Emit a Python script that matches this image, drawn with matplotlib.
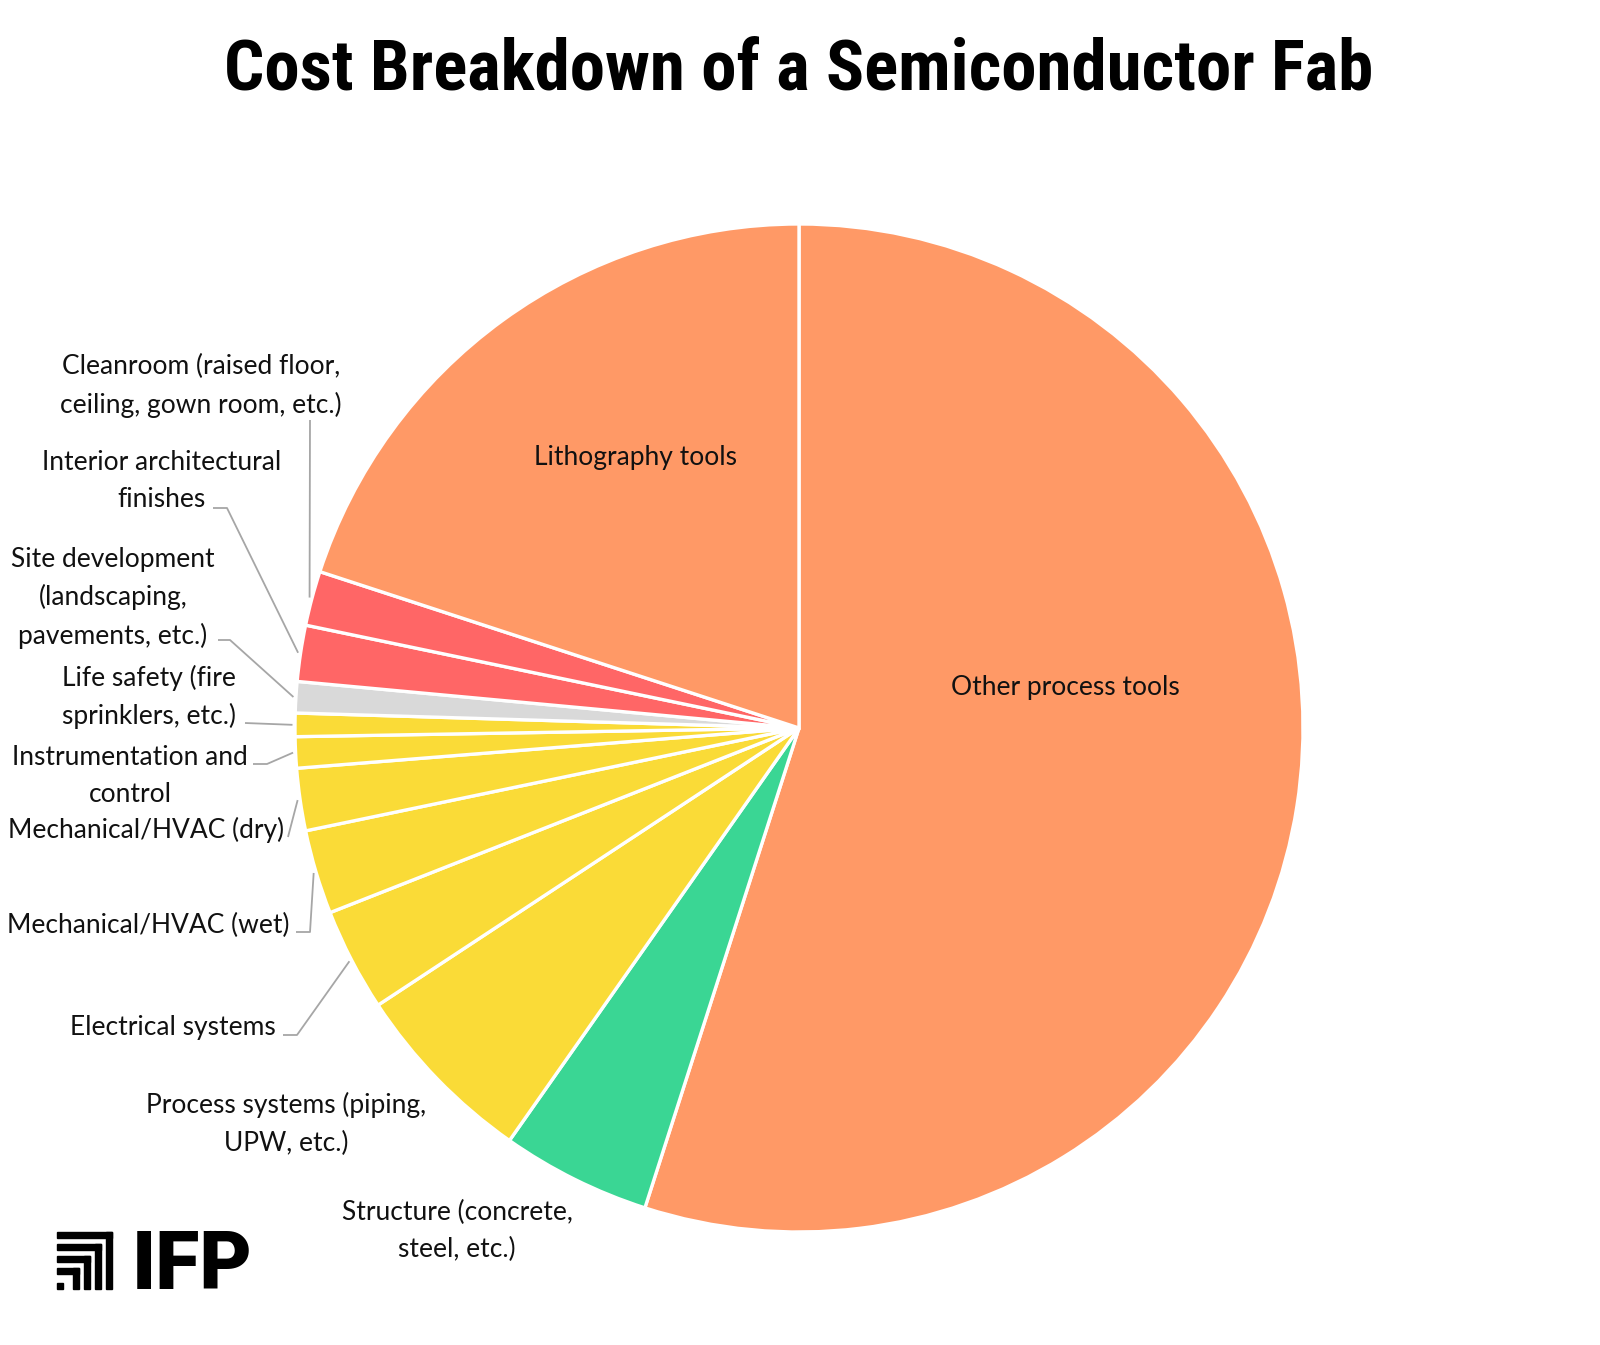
import matplotlib
matplotlib.use("Agg")
import matplotlib.pyplot as plt
from matplotlib.patches import Rectangle
import numpy as np

# slices, clockwise from 12 o'clock
categories = [
    "Other process tools",
    "Structure (concrete,\nsteel, etc.)",
    "Process systems (piping,\nUPW, etc.)",
    "Electrical systems",
    "Mechanical/HVAC (wet)",
    "Mechanical/HVAC (dry)",
    "Instrumentation and\ncontrol",
    "Life safety (fire\nsprinklers, etc.)",
    "Site development\n(landscaping,\npavements, etc.)",
    "Interior architectural\nfinishes",
    "Cleanroom (raised floor,\nceiling, gown room, etc.)",
    "Lithography tools",
]
shares = [55.0, 4.8, 6.0, 3.3, 2.7, 2.0, 1.0, 0.75, 1.0, 1.8, 1.75, 20.0]
colors = ["#FF9966", "#3AD694", "#FADB37", "#FADB37", "#FADB37", "#FADB37",
          "#FADB37", "#FADB37", "#D9D9D9", "#FF6666", "#FF6666", "#FF9966"]

W, H = 1600, 1345
font = ["Lato", "DejaVu Sans"]

# label layout in pixel coords (x, y from top): text centre, leader start, elbow
label_pos = {
    0: ((1065, 687), None, None),
    1: ((457, 1231), None, None),
    2: ((286, 1124), None, None),
    3: ((173, 1027), (283, 1035), (297, 1035)),
    4: ((148, 925), (296, 932), (310, 932)),
    5: ((146, 830), (288, 837), None),
    6: ((130, 776), (253, 764), (267, 764)),
    7: ((149, 697), (245, 723), None),
    8: ((113, 598), (218, 640), (230, 640)),
    9: ((162, 481), (213, 508), (227, 508)),
    10: ((201, 386), (310, 420), None),
    11: ((635, 457), None, None),
}


def P(x, y):
    return (x, H - y)


fig = plt.figure(figsize=(W / 100, H / 100), dpi=100)
ax = fig.add_axes([0, 0, 1, 1])

cx, cy = P(799, 728)
R = 504
wedges, _ = ax.pie(shares, colors=colors, startangle=90, counterclock=False,
                   radius=R, center=(cx, cy), frame=True,
                   wedgeprops=dict(edgecolor="white", linewidth=2.4))
ax.set_xlim(0, W)
ax.set_ylim(0, H)
ax.set_aspect("equal")
ax.axis("off")

for i, w in enumerate(wedges):
    (tx, ty), start, elbow = label_pos[i]
    ax.text(*P(tx, ty), categories[i], ha="center", va="center", fontsize=19,
            family=font, linespacing=1.6, color="#111111")
    if start is None:
        continue
    mid = np.deg2rad((w.theta1 + w.theta2) / 2)
    ex, ey = cx + R * 1.005 * np.cos(mid), cy + R * 1.005 * np.sin(mid)
    pts = [P(*start)]
    if elbow is not None:
        pts.append(P(*elbow))
    pts.append((ex, ey))
    xs, ys = zip(*pts)
    ax.plot(xs, ys, color="#A6A6A6", lw=1.3, solid_capstyle="butt")

fig.text(799 / W, 1 - 70 / H, "Cost Breakdown of a Semiconductor Fab",
         ha="center", va="center", fontsize=51, fontweight="bold",
         family=["Roboto Condensed", "Liberation Sans Narrow", "Roboto",
                 "DejaVu Sans"])

# IFP logo
for k in range(4):
    top = 1232 + k * 12
    right = 112 - k * 11
    ax.add_patch(Rectangle(P(57, top + 6), right - 57, 6, color="black"))
    ax.add_patch(Rectangle(P(right - 6, 1289), 6, 1289 - top, color="black"))
ax.add_patch(Rectangle(P(57, 1289), 6, 6, color="black"))
ax.text(*P(132, 1289), "IFP", ha="left", va="baseline", fontsize=58,
        fontweight="black", family=["Roboto", "DejaVu Sans"])

fig.savefig("out.png", dpi=100, facecolor="white")
